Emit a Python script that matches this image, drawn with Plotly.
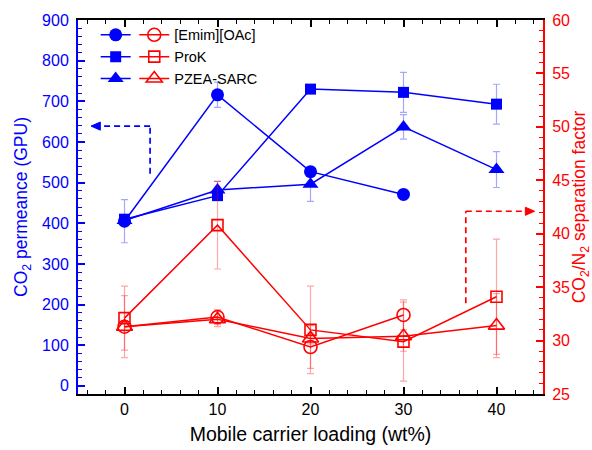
import plotly.graph_objects as go

# ---- data ----
loading = [0, 10, 20, 30, 40]
emim_x = [0, 10, 20, 30]
emim_perm = [405, 716, 527, 471]
emim_perm_err = [53, 31, 8, 8]
emim_sel = [31.3, 32.2, 29.4, 32.4]
emim_sel_err = [0.5, 0.7, 2.0, 1.4]

prok_perm = [410, 468, 730, 722, 693]
prok_perm_err = [8, 8, 8, 49, 49]
prok_sel = [32.1, 40.8, 31.0, 29.9, 34.1]
prok_sel_err = [3.0, 4.1, 4.1, 3.7, 5.4]

pzea_perm = [407, 482, 496, 637, 532]
pzea_perm_err = [8, 21, 42, 30, 44]
pzea_sel = [31.3, 32.0, 30.2, 30.4, 31.4]
pzea_sel_err = [2.9, 0.7, 0.5, 1.4, 3.0]

names = ["[Emim][OAc]", "ProK", "PZEA-SARC"]

BLUE = "#0000FF"
RED = "#FF0000"
BLUE_ERR = "rgba(0,0,255,0.35)"
RED_ERR = "rgba(255,0,0,0.35)"
FONT = "Arial, 'Liberation Sans', sans-serif"

fig = go.Figure()

series = [
    (emim_x, emim_perm, emim_perm_err, emim_sel, emim_sel_err, "circle", 13),
    (loading, prok_perm, prok_perm_err, prok_sel, prok_sel_err, "square", 11),
    (loading, pzea_perm, pzea_perm_err, pzea_sel, pzea_sel_err, "triangle-up", 14),
]

for (xs, perm, perr, sel, serr, sym, ms), nm in zip(series, names):
    fig.add_trace(go.Scatter(
        x=xs, y=perm, mode="lines+markers", name="", legend="legend",
        line=dict(color=BLUE, width=1.5),
        marker=dict(symbol=sym, size=ms, color=BLUE),
        error_y=dict(type="data", array=perr, color=BLUE_ERR, thickness=1.2, width=3.5),
        yaxis="y", showlegend=True,
    ))

for (xs, perm, perr, sel, serr, sym, ms), nm in zip(series, names):
    fig.add_trace(go.Scatter(
        x=xs, y=sel, mode="lines+markers", name=nm, legend="legend2",
        line=dict(color=RED, width=1.5),
        marker=dict(symbol=sym + "-open", size=ms, color=RED, line=dict(width=1.6, color=RED)),
        error_y=dict(type="data", array=serr, color=RED_ERR, thickness=1.2, width=3.5),
        yaxis="y2", showlegend=True,
    ))

# ---- dashed arrows ----
dash = "6px,4px"
# blue arrow (pointing to left axis)
bx, by0, by1, btip = 2.75, 522, 639, -3.6
fig.add_shape(type="line", xref="x", yref="y", x0=bx, x1=bx, y0=by0, y1=by1,
              line=dict(color=BLUE, width=1.7, dash=dash))
fig.add_shape(type="line", xref="x", yref="y", x0=bx, x1=btip + 0.9, y0=by1, y1=by1,
              line=dict(color=BLUE, width=1.7, dash=dash))
fig.add_shape(type="path", xref="x", yref="y",
              path=f"M {btip} {by1} L {btip + 1.0} {by1 + 10} L {btip + 1.0} {by1 - 10} Z",
              fillcolor=BLUE, line=dict(color=BLUE, width=1))
# red arrow (pointing to right axis)
rx, ry0, ry1, rtip = 36.7, 33.5, 42.1, 44.1
fig.add_shape(type="line", xref="x", yref="y2", x0=rx, x1=rx, y0=ry0, y1=ry1,
              line=dict(color=RED, width=1.7, dash=dash))
fig.add_shape(type="line", xref="x", yref="y2", x0=rx, x1=rtip - 0.9, y0=ry1, y1=ry1,
              line=dict(color=RED, width=1.7, dash=dash))
fig.add_shape(type="path", xref="x", yref="y2",
              path=f"M {rtip} {ry1} L {rtip - 1.0} {ry1 + 0.38} L {rtip - 1.0} {ry1 - 0.38} Z",
              fillcolor=RED, line=dict(color=RED, width=1))

fig.update_layout(
    width=592, height=450,
    margin=dict(l=78, r=49, t=20, b=56, autoexpand=False),
    paper_bgcolor="white", plot_bgcolor="white",
    font=dict(family=FONT, size=16, color="black"),
    xaxis=dict(
        range=[-5, 45], tickmode="linear", tick0=0, dtick=10, automargin=False,
        ticks="inside", ticklen=7, tickwidth=1.5, tickcolor="black",
        minor=dict(ticks="inside", ticklen=4, dtick=2, tick0=0, tickcolor="black", tickwidth=1.2),
        showline=True, linecolor="black", linewidth=2, mirror="ticks",
        showgrid=False, zeroline=False,
        tickfont=dict(size=16, color="black"),
        title=dict(text="Mobile carrier loading (wt%)", font=dict(size=19.5, color="black"), standoff=10),
    ),
    yaxis=dict(
        range=[-20, 900], tickmode="linear", tick0=0, dtick=100, automargin=False,
        ticks="inside", ticklen=7, tickwidth=1.5, tickcolor=BLUE,
        minor=dict(ticks="inside", ticklen=4, dtick=20, tick0=0, tickcolor=BLUE, tickwidth=1.2),
        showline=True, linecolor=BLUE, linewidth=2,
        showgrid=False, zeroline=False,
        tickfont=dict(size=16, color=BLUE), ticklabelstandoff=4,
        title=dict(text="CO<sub>2</sub> permeance (GPU)", font=dict(size=17.5, color=BLUE), standoff=10),
    ),
    yaxis2=dict(
        range=[25, 60], tickmode="linear", tick0=25, dtick=5, automargin=False,
        overlaying="y", side="right",
        ticks="inside", ticklen=7, tickwidth=1.5, tickcolor=RED,
        minor=dict(ticks="inside", ticklen=4, dtick=1, tick0=25, tickcolor=RED, tickwidth=1.2),
        showline=True, linecolor=RED, linewidth=2,
        showgrid=False, zeroline=False,
        tickfont=dict(size=16, color=RED), ticklabelstandoff=4,
        title=dict(text="CO<sub>2</sub>/N<sub>2</sub> separation factor", font=dict(size=17.5, color=RED), standoff=4),
    ),
    legend=dict(x=0.038, y=1.003, xanchor="left", yanchor="top",
                bgcolor="rgba(0,0,0,0)", borderwidth=0, tracegroupgap=0,
                font=dict(size=14.5, color="black")),
    legend2=dict(x=0.121, y=1.003, xanchor="left", yanchor="top",
                 bgcolor="rgba(0,0,0,0)", borderwidth=0, tracegroupgap=0,
                 font=dict(size=14.5, color="black")),
    showlegend=True,
)

fig.write_html("out.html")
